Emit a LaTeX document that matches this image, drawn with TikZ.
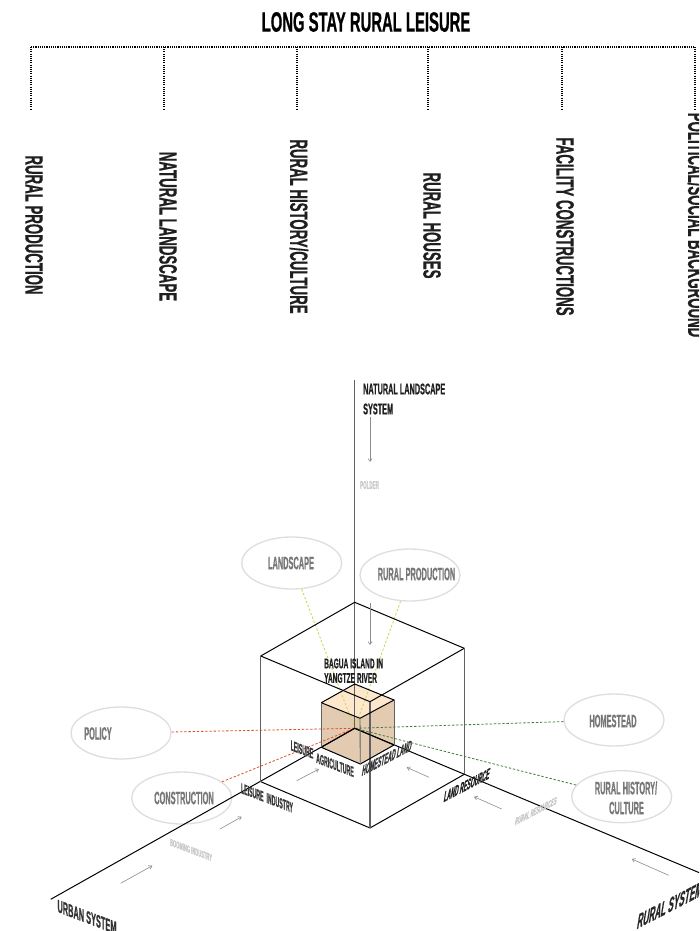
\documentclass[tikz,border=0pt]{standalone}
\usepackage{fontspec}
\setmainfont[FakeStretch=0.53,BoldFeatures={FakeBold=0.6}]{Liberation Sans}
\newfontfamily\fnar[FakeStretch=0.47,BoldFeatures={FakeBold=0.6}]{Liberation Sans}
\newfontfamily\fcon[FakeStretch=0.41,BoldFeatures={FakeBold=0.6}]{Liberation Sans}
\newfontfamily\fthin[FakeStretch=0.36,BoldFeatures={FakeBold=0.6}]{Liberation Sans}
\usetikzlibrary{arrows.meta,shapes.geometric}
\definecolor{labgray}{HTML}{777777}
\definecolor{pale}{HTML}{C8C8C8}
\definecolor{dashyellow}{HTML}{D2D44C}
\definecolor{dashred}{HTML}{E2512F}
\definecolor{dashgreen}{HTML}{3F7F3A}
\definecolor{cubeside}{HTML}{E2CBB0}
\definecolor{cubetop}{HTML}{FDE8CE}
\tikzset{
  tx/.style={font=\bfseries\fontsize{#1}{#1}\selectfont,inner sep=0pt,text=black!88},
  ta/.style={font=\fnar\bfseries\fontsize{#1}{#1}\selectfont,inner sep=0pt,text=black!88},
  tb/.style={font=\fcon\bfseries\fontsize{#1}{#1}\selectfont,inner sep=0pt,text=black!88},
  tc/.style={font=\fthin\bfseries\fontsize{#1}{#1}\selectfont,inner sep=0pt,text=black!78},
  vtext/.style={tx=25,rotate=-90},
  conn/.style={draw=black,line width=1.2pt,dash pattern=on 1.1pt off 1.1pt},
  edge line/.style={draw=black,line width=1pt},
  post line/.style={draw=black!62,line width=1.2pt},
  cube line/.style={draw=black,line width=1pt},
  flow/.style={draw=black!45,line width=0.6pt,-{Straight Barb[length=3pt,width=4pt]}},
  bubble/.style={ellipse,draw=black!13,fill=white,line width=1.3pt,minimum width=100pt,minimum height=52pt,inner sep=0pt},
  bubtext/.style={tb=18,text=labgray},
  dsh/.style={line width=0.8pt,dash pattern=on 2.4pt off 1.8pt},
  down/.style={yslant=-0.38,transform shape},
  up/.style={yslant=0.52,xslant=0.18,transform shape},
}
\begin{document}
\begin{tikzpicture}[x=1pt,y=-1pt]
\clip (0,0) rectangle (699,931);
\fill[white] (0,0) rectangle (699,931);

% heading
\node[tx=28,text=black] (title) at (366,22) {LONG STAY RURAL LEISURE};
\foreach \n/\x in {1/31,2/164,3/297,4/428,5/562,6/695}{
  \coordinate (top\n) at (\x,47);
  \coordinate (bot\n) at (\x,110);
  \draw[conn] (top\n) -- (bot\n);
}
\draw[conn] (top1) -- (top6);
\node[vtext] (v1) at (34,225) {RURAL PRODUCTION};
\node[vtext] (v2) at (168,226.5) {NATURAL LANDSCAPE};
\node[vtext] (v3) at (299,226.5) {RURAL HISTORY/CULTURE};
\node[vtext] (v4) at (432,225.5) {RURAL HOUSES};
\node[vtext] (v5) at (565,226.5) {FACILITY CONSTRUCTIONS};
\node[vtext] (v6) at (697,225) {POLITICAL/SOCIAL BACKGROUND};

% points of the boxes
\coordinate (c) at (354.7,728.3);
\coordinate (axtop) at (354.7,380);
\coordinate (axurban) at (50.7,899.3);
\coordinate (axrural) at (700,873);
\coordinate (bA) at (354.7,602.3);
\coordinate (bL) at (260.7,656);
\coordinate (bR) at (464.3,648.3);
\coordinate (bF) at (370,701.7);
\coordinate (bLb) at (260.7,781.7);
\coordinate (bRb) at (464.3,774.3);
\coordinate (bFb) at (370,828);
\coordinate (sA) at (354.7,684);
\coordinate (sL) at (321.3,702.7);
\coordinate (sR) at (394,700);
\coordinate (sF) at (360,718.3);
\coordinate (sLb) at (321.3,747.3);
\coordinate (sRb) at (394,745);
\coordinate (sFb) at (360.3,764);

% small cube
\fill[cubeside] (sL) -- (sF) -- (sFb) -- (sLb) -- cycle;
\fill[cubeside] (sF) -- (sR) -- (sRb) -- (sFb) -- cycle;
\fill[cubetop] (sA) -- (sR) -- (sF) -- (sL) -- cycle;

% bubbles
\node[bubble] (landscape) at (291.7,563) {};
\node[bubble] (ruralprod) at (410,575) {};
\node[bubble] (policy) at (121,733) {};
\node[bubble] (construction) at (181.7,798) {};
\node[bubble] (homestead) at (614,720) {};
\node[bubble] (history) at (621.7,796.7) {};
\node[bubtext] (tlandscape) at (291,563) {LANDSCAPE};
\node[bubtext] (truralprod) at (416.5,574) {RURAL PRODUCTION};
\node[bubtext] (tpolicy) at (98,733.5) {POLICY};
\node[bubtext] (tconstruction) at (184,798) {CONSTRUCTION};
\node[bubtext] (thomestead) at (613,721) {HOMESTEAD};
\node[bubtext] (thist1) at (626,788) {RURAL HISTORY/};
\node[bubtext] (thist2) at (626.5,808) {CULTURE};

% dashed ties
\draw[dsh,draw=dashyellow] (landscape) -- (c);
\draw[dsh,draw=dashyellow] (ruralprod) -- (c);
\draw[dsh,draw=dashred] (policy) -- (c);
\draw[dsh,draw=dashred] (construction) -- (c);
\draw[dsh,draw=dashgreen] (homestead) -- (c);
\draw[dsh,draw=dashgreen] (history) -- (c);

% large box and axes
\draw[post line,line width=1.4pt] (axtop) -- (c);
\draw[edge line] (c) -- (axurban);
\draw[edge line] (c) -- (axrural);
\draw[edge line] (bL) -- (bA) -- (bR);
\draw[edge line] (bL) -- (bF) -- (bR);
\draw[edge line] (bLb) -- (bFb) -- (bRb);
\draw[post line] (bL) -- (bLb);
\draw[post line] (bR) -- (bRb);
\draw[post line] (bF) -- (bFb);

% small cube edges
\draw[cube line] (sL) -- (sA) -- (sR) -- (sF) -- (sL);
\draw[cube line] (sLb) -- (c) -- (sRb);
\draw[cube line] (sLb) -- (sFb) -- (sRb);
\draw[post line,line width=0.9pt] (sL) -- (sLb);
\draw[post line,line width=0.9pt] (sR) -- (sRb);
\draw[post line,line width=0.9pt] (sF) -- (sFb);

% flow arrows
\foreach \n/\ax/\ay/\bx/\by in {a/370/416.7/370/462,b/370/603.3/370/645,c/296.7/780.7/319/769,d/429/777.3/406.7/767.3,e/220/829/241.7/816.7,f/120.7/883.3/152.3/865.7,g/501.7/809/474/796.7,h/668.7/875.3/631.7/859}{
  \coordinate (fs\n) at (\ax,\ay);
  \coordinate (fe\n) at (\bx,\by);
  \draw[flow] (fs\n) -- (fe\n);
}

% labels
\node[ta=15.5,anchor=west] (nls1) at (363,389) {NATURAL LANDSCAPE};
\node[ta=15.5,anchor=west] (nls2) at (363,409) {SYSTEM};
\node[tb=11,text=pale] (polder) at (369.5,485) {POLDER};
\node[ta=14,anchor=west] (bagua1) at (324,663.5) {BAGUA ISLAND IN};
\node[ta=14,anchor=west] (bagua2) at (324,678) {YANGTZE RIVER};
\node[tc=14.5,down] (leisure) at (302,749.5) {LEISURE};
\node[tc=14.5,down] (agri) at (335,765) {AGRICULTURE};
\node[tc=14.5,up] (homeland) at (387,758) {HOMESTEAD LAND};
\node[tc=14.5,down] (leisind) at (267,798) {LEISURE\ \ INDUSTRY};
\node[tc=14.5,up,text=black!88] (landres) at (467,785) {LAND RESOURCE};
\node[tb=10,down,text=pale] (boom) at (191,850) {BOOMING INDUSTRY};
\node[tb=10,up,text=pale] (ruralres) at (536,811) {RURAL RESOURCES};
\node[tb=18,down,text=black!80] (urban) at (87,917) {URBAN SYSTEM};
\node[tb=20,up,text=black!85] (ruralsys) at (670,905) {RURAL SYSTEM};
\end{tikzpicture}
\end{document}
